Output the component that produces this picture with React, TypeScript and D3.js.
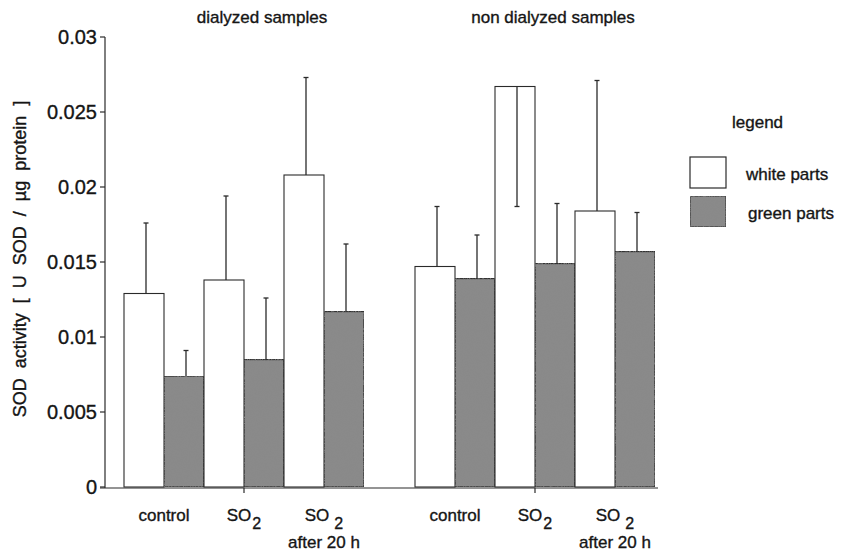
import React from 'react';
import * as d3 from 'd3';

const groups = ['dialyzed samples', 'non dialyzed samples'];
const categories = ['control', 'SO2', 'SO2 after 20 h'];
const catMain = ['control', 'SO', 'SO'];
const catSub = ['', '2', '2'];
const catSecond = ['', '', 'after 20 h'];
const series = ['white parts', 'green parts'];

const whiteDialyzed = [0.0129, 0.0138, 0.0208];
const whiteDialyzedErr = [0.0047, 0.0056, 0.0065];
const greenDialyzed = [0.0074, 0.0085, 0.0117];
const greenDialyzedErr = [0.0017, 0.0041, 0.0045];
const whiteNonDialyzed = [0.0147, 0.0267, 0.0184];
const whiteNonDialyzedErr = [0.004, -0.008, 0.0087];
const greenNonDialyzed = [0.0139, 0.0149, 0.0157];
const greenNonDialyzedErr = [0.0029, 0.004, 0.0026];

const yTicks = [0, 0.005, 0.01, 0.015, 0.02, 0.025, 0.03];
const yTickLabels = ['0', '0.005', '0.01', '0.015', '0.02', '0.025', '0.03'];

const W = 843;
const H = 556;
const FONT = "'Liberation Sans', Arial, Helvetica, sans-serif";
const INK = '#2a2a2a';
const TXT = '#151515';
const GREEN_FILL = '#8a8a8a';

export default function App() {
  const y = d3.scaleLinear().domain([0, 0.03]).range([487, 37]);
  const gx = d3.scaleBand<string>().domain(groups).range([124, 655]).paddingInner(51 / 291);
  const cx = d3.scaleBand<string>().domain(categories).range([0, gx.bandwidth()]);
  const sx = d3.scaleBand<string>().domain(series).range([0, cx.bandwidth()]);

  const values = [
    [whiteDialyzed, greenDialyzed],
    [whiteNonDialyzed, greenNonDialyzed],
  ];
  const errors = [
    [whiteDialyzedErr, greenDialyzedErr],
    [whiteNonDialyzedErr, greenNonDialyzedErr],
  ];

  const axisX = 105;
  const baseY = y(0) + 1;

  const bars: any[] = [];
  groups.forEach((g, gi) => {
    categories.forEach((c, ci) => {
      series.forEach((s, si) => {
        const v = values[gi][si][ci];
        const e = errors[gi][si][ci];
        const x0 = (gx(g) as number) + (cx(c) as number) + (sx(s) as number);
        bars.push({ key: `${g}-${c}-${s}`, x0, w: sx.bandwidth(), v, e, si });
      });
    });
  });

  const legendX = 690;
  const legendY = [157, 196];
  const textStroke = { stroke: TXT, strokeWidth: 0.35 };

  return (
    <svg
      width={W}
      height={H}
      viewBox={`0 0 ${W} ${H}`}
      style={{ position: 'absolute', left: 0, top: 0, background: '#fff', display: 'block' }}
      fontFamily={FONT}
    >
      <defs>
        <filter id="grain" x="0" y="0" width="100%" height="100%">
          <feTurbulence type="fractalNoise" baseFrequency="0.85" numOctaves={2} seed={3} result="noise" />
          <feColorMatrix
            in="noise"
            type="matrix"
            values="0 0 0 0 0.25  0 0 0 0 0.25  0 0 0 0 0.25  0 0 0 2.2 -1.0"
            result="dots"
          />
          <feComposite in="dots" in2="SourceGraphic" operator="in" result="clipped" />
          <feMerge>
            <feMergeNode in="SourceGraphic" />
            <feMergeNode in="clipped" />
          </feMerge>
        </filter>
      </defs>
      <rect x={0} y={0} width={W} height={H} fill="#fff" />

      {/* bars */}
      {bars.map((b) => (
        <rect
          key={b.key}
          x={b.x0}
          y={y(b.v)}
          width={b.w}
          height={y(0) - y(b.v)}
          fill={b.si === 0 ? '#fff' : GREEN_FILL}
          stroke={b.si === 0 ? INK : '#333'}
          strokeWidth={b.si === 0 ? 1.1 : 1.4}
          filter={b.si === 1 ? 'url(#grain)' : undefined}
        />
      ))}

      {/* error bars */}
      {bars.map((b) => {
        const xc = b.x0 + b.w / 2 + 2;
        const yEnd = y(b.v + b.e);
        return (
          <g key={b.key + '-err'} stroke={INK} strokeWidth={1.3}>
            <line x1={xc} x2={xc} y1={y(b.v)} y2={yEnd} />
            <line x1={xc - 2.5} x2={xc + 2.5} y1={yEnd} y2={yEnd} />
          </g>
        );
      })}

      {/* y axis */}
      <line x1={axisX} x2={axisX} y1={y(0.03)} y2={baseY} stroke={INK} strokeWidth={1.2} />
      {yTicks.map((t, i) => (
        <g key={'yt' + i}>
          <line x1={axisX - 5} x2={axisX} y1={y(t)} y2={y(t)} stroke={INK} strokeWidth={1.2} />
          <text x={97} y={y(t) + 7} textAnchor="end" fontSize={20} fill={TXT} {...textStroke}>
            {yTickLabels[i]}
          </text>
        </g>
      ))}

      {/* x axis */}
      <line
        x1={axisX - 5}
        x2={(gx(groups[1]) as number) + gx.bandwidth() + 3}
        y1={baseY}
        y2={baseY}
        stroke={INK}
        strokeWidth={1.2}
      />
      {groups.map((g) => {
        const c = (gx(g) as number) + gx.bandwidth() / 2;
        return <line key={'xt' + g} x1={c} x2={c} y1={baseY} y2={baseY + 5} stroke={INK} strokeWidth={1.2} />;
      })}

      {/* group titles */}
      {groups.map((g) => (
        <text
          key={'gt' + g}
          x={(gx(g) as number) + gx.bandwidth() / 2 + 18}
          y={23}
          textAnchor="middle"
          fontSize={17}
          fill={TXT}
          {...textStroke}
        >
          {g}
        </text>
      ))}

      {/* category labels */}
      {groups.map((g) =>
        categories.map((c, ci) => {
          const xc = (gx(g) as number) + (cx(c) as number) + cx.bandwidth() / 2;
          return (
            <g key={'cl' + g + c}>
              <text x={xc} y={521} textAnchor="middle" fontSize={17} fill={TXT} {...textStroke}>
                {catMain[ci]}
                {catSub[ci] && (
                  <tspan dx={ci === 2 ? 5 : 1} dy={8} fontSize={16}>
                    {catSub[ci]}
                  </tspan>
                )}
              </text>
              {catSecond[ci] && (
                <text x={xc} y={548} textAnchor="middle" fontSize={17} fill={TXT} {...textStroke}>
                  {catSecond[ci]}
                </text>
              )}
            </g>
          );
        })
      )}

      {/* y axis title */}
      <text
        transform={`translate(26, 259) rotate(-90)`}
        textAnchor="middle"
        fontSize={18}
        fill={TXT}
        style={{ wordSpacing: '5px' }}
        {...textStroke}
      >
        SOD activity [ U SOD / µg protein ]
      </text>

      {/* legend */}
      <text x={732} y={128} fontSize={17} fill={TXT} {...textStroke}>
        legend
      </text>
      {series.map((s, i) => (
        <g key={'lg' + s}>
          <rect
            x={legendX}
            y={legendY[i]}
            width={36}
            height={31}
            fill={i === 0 ? '#fff' : GREEN_FILL}
            stroke={i === 0 ? INK : '#333'}
            strokeWidth={1.2}
            filter={i === 1 ? 'url(#grain)' : undefined}
          />
          <text x={746 + i * 2} y={legendY[i] + 23} fontSize={17} fill={TXT} {...textStroke}>
            {s}
          </text>
        </g>
      ))}
    </svg>
  );
}
